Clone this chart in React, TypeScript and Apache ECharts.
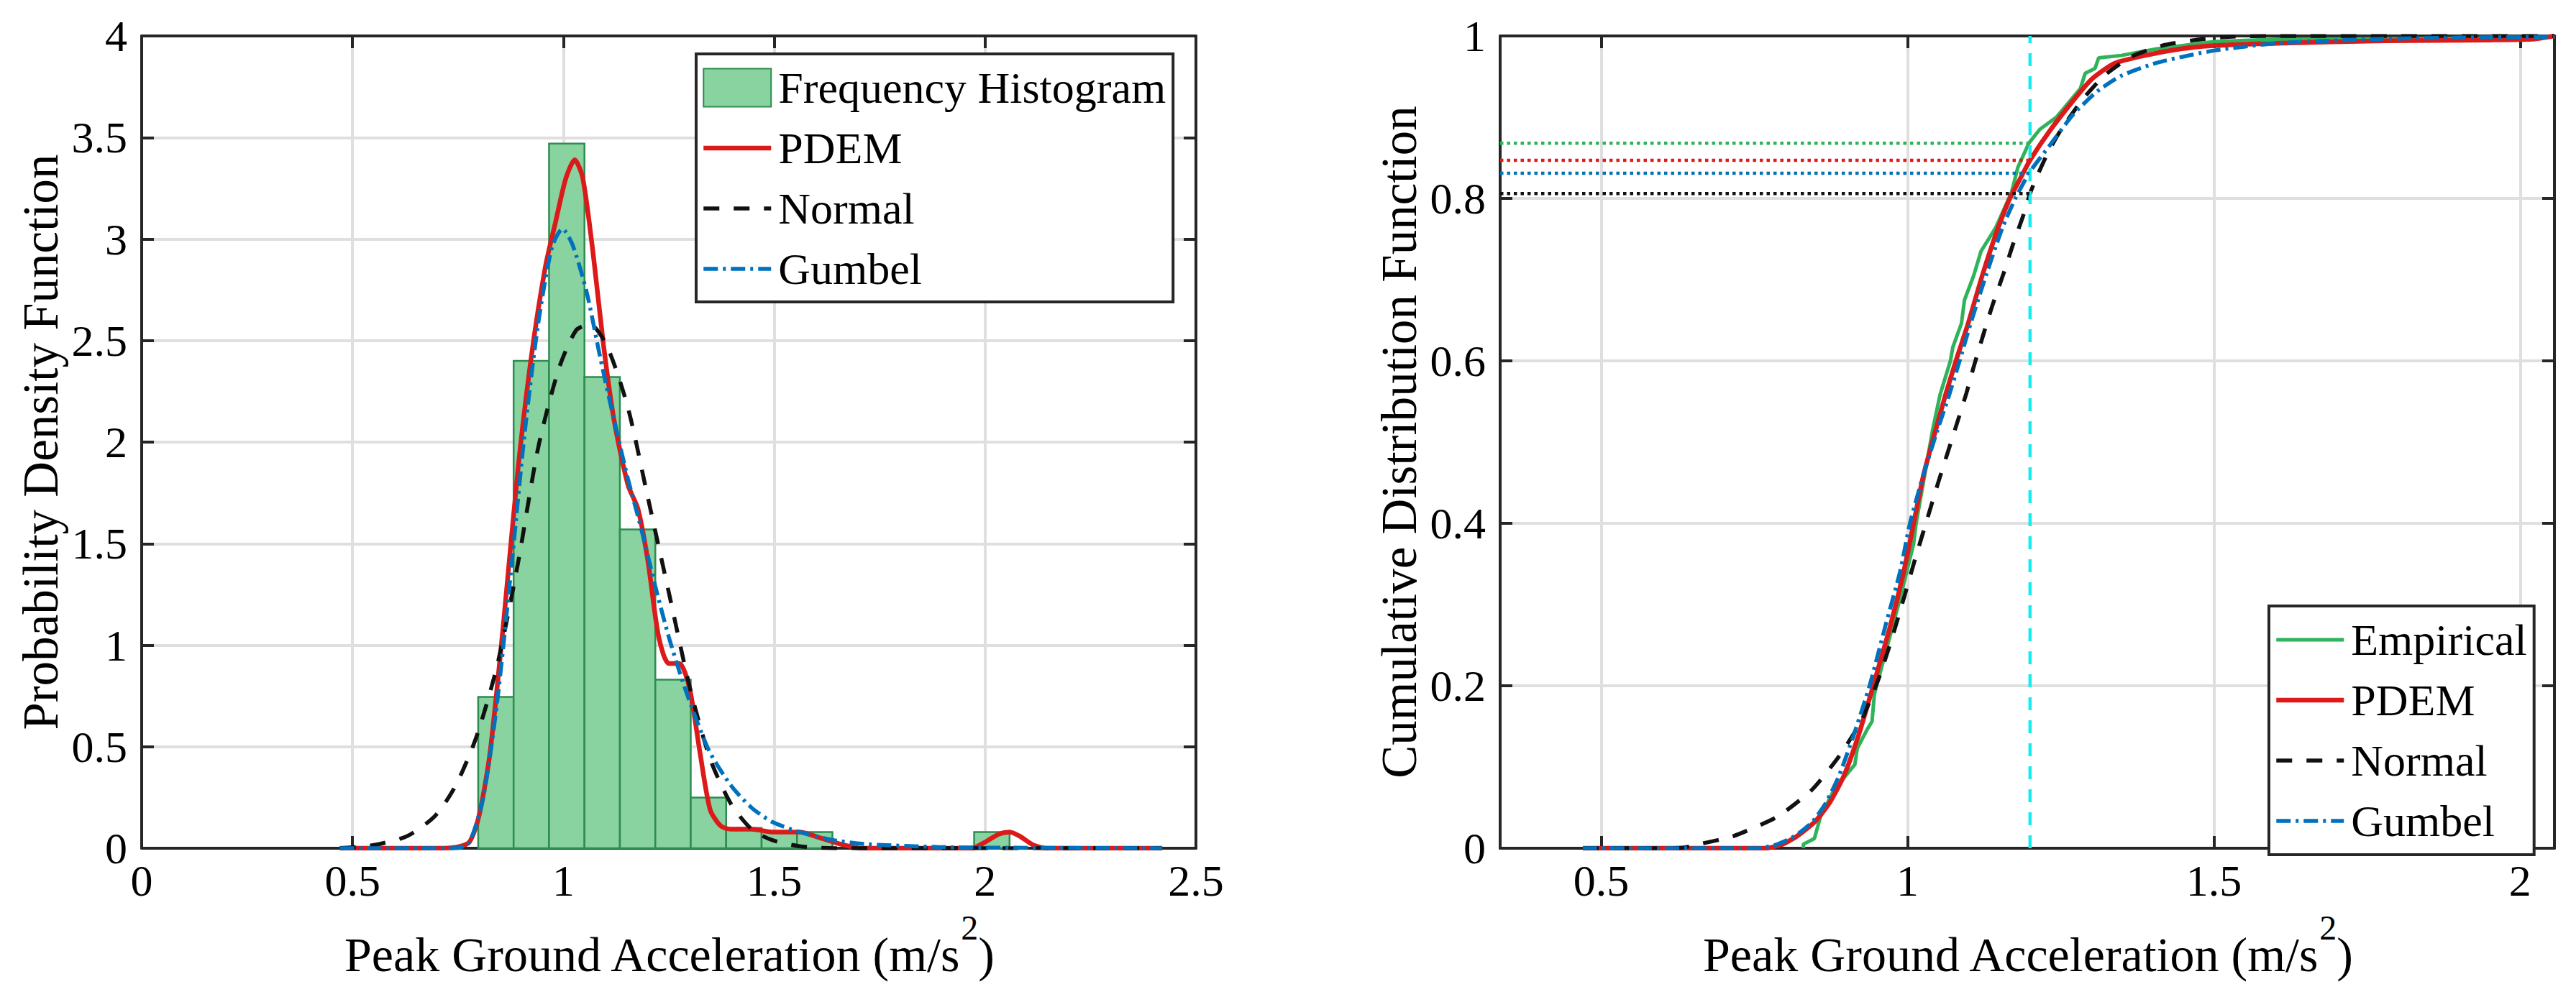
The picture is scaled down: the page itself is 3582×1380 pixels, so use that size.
import React, { useEffect, useRef } from 'react';
import * as echarts from 'echarts';

const FONT = "'Liberation Serif', 'Times New Roman', serif";

// histogram bins (left plot), pdf normalised
const histLeft = [0.798, 0.882, 0.966, 1.050, 1.134, 1.218, 1.302, 1.386, 1.470, 1.554, 1.974];
const histRight = [0.882, 0.966, 1.050, 1.134, 1.218, 1.302, 1.386, 1.470, 1.554, 1.638, 2.058];
const histDensity = [0.745, 2.40, 3.47, 2.32, 1.57, 0.83, 0.25, 0.10, 0.08, 0.08, 0.08];

// pdf curves [x, f(x)]
const pdemPdf = [
  [0.47, 0], [0.6, 0], [0.7, 0], [0.745, 0.005], [0.777, 0.03], [0.8, 0.16], [0.826, 0.47],
  [0.859, 1.13], [0.892, 1.86], [0.924, 2.42], [0.957, 2.86], [0.981, 3.08], [1.006, 3.3],
  [1.027, 3.39], [1.046, 3.3], [1.071, 2.92], [1.095, 2.48], [1.12, 2.11], [1.153, 1.79],
  [1.177, 1.67], [1.2, 1.42], [1.226, 1.04], [1.25, 0.91], [1.275, 0.91], [1.299, 0.79],
  [1.324, 0.47], [1.348, 0.19], [1.373, 0.11], [1.397, 0.094], [1.446, 0.094], [1.495, 0.08],
  [1.56, 0.08], [1.61, 0.05], [1.658, 0.02], [1.707, 0], [1.968, 0], [2.0, 0.03], [2.033, 0.07],
  [2.058, 0.08], [2.082, 0.06], [2.115, 0.015], [2.147, 0], [2.42, 0],
];
const normalPdf = [
  [0.47, 0], [0.549, 0.015], [0.63, 0.06], [0.696, 0.16], [0.745, 0.31], [0.794, 0.55],
  [0.843, 0.9], [0.892, 1.4], [0.94, 1.97], [0.989, 2.36], [1.03, 2.55], [1.063, 2.58],
  [1.104, 2.47], [1.153, 2.17], [1.2, 1.73], [1.25, 1.26], [1.3, 0.79], [1.348, 0.44],
  [1.397, 0.22], [1.446, 0.094], [1.495, 0.04], [1.56, 0.01], [1.64, 0], [2.42, 0],
];
const gumbelPdf = [
  [0.47, 0], [0.745, 0], [0.777, 0.03], [0.81, 0.25], [0.843, 0.72], [0.875, 1.35], [0.908, 2.04],
  [0.94, 2.58], [0.973, 2.96], [0.998, 3.05], [1.022, 2.97], [1.055, 2.74], [1.087, 2.42],
  [1.12, 2.11], [1.153, 1.82], [1.185, 1.57], [1.218, 1.29], [1.25, 1.04], [1.283, 0.82],
  [1.316, 0.63], [1.348, 0.47], [1.397, 0.31], [1.446, 0.2], [1.495, 0.13], [1.56, 0.08],
  [1.64, 0.04], [1.72, 0.02], [1.887, 0.006], [2.0, 0.003], [2.42, 0],
];

// cdf curves [x, F(x)]
const empiricalCdf = [
  [0.83, 0], [0.83, 0.005], [0.848, 0.012], [0.858, 0.039], [0.88, 0.072], [0.914, 0.103],
  [0.918, 0.123], [0.934, 0.146], [0.942, 0.156], [0.946, 0.19], [0.976, 0.274], [0.988, 0.308],
  [1.01, 0.375], [1.014, 0.4], [1.041, 0.515], [1.053, 0.558], [1.07, 0.6], [1.074, 0.617],
  [1.088, 0.646], [1.093, 0.675], [1.108, 0.705], [1.12, 0.735], [1.144, 0.764], [1.17, 0.808],
  [1.18, 0.838], [1.198, 0.868], [1.216, 0.885], [1.243, 0.9], [1.282, 0.935], [1.29, 0.954],
  [1.306, 0.96], [1.312, 0.973], [1.349, 0.976], [1.407, 0.984], [1.5, 0.993], [1.603, 0.996],
  [1.9, 0.997], [2.03, 0.997], [2.056, 1],
];
const pdemCdf = [
  [0.47, 0], [0.768, 0], [0.796, 0.005], [0.82, 0.015], [0.848, 0.032], [0.872, 0.055],
  [0.896, 0.089], [0.92, 0.139], [0.944, 0.2], [0.972, 0.274], [0.994, 0.341], [1.01, 0.4],
  [1.026, 0.459], [1.046, 0.515], [1.062, 0.558], [1.079, 0.6], [1.099, 0.646], [1.122, 0.705],
  [1.148, 0.764], [1.167, 0.8], [1.183, 0.823], [1.2, 0.847], [1.231, 0.882], [1.27, 0.92],
  [1.301, 0.947], [1.337, 0.966], [1.388, 0.976], [1.446, 0.984], [1.499, 0.988], [1.603, 0.991],
  [1.78, 0.994], [1.95, 0.995], [2.02, 0.996], [2.056, 1],
];
const normalCdf = [
  [0.47, 0], [0.6, 0], [0.636, 0.001], [0.66, 0.005], [0.716, 0.015], [0.788, 0.039],
  [0.844, 0.072], [0.888, 0.113], [0.924, 0.156], [0.952, 0.207], [0.974, 0.257], [0.994, 0.308],
  [1.012, 0.355], [1.03, 0.4], [1.05, 0.45], [1.079, 0.519], [1.096, 0.56], [1.107, 0.59],
  [1.122, 0.628], [1.138, 0.667], [1.157, 0.708], [1.172, 0.743], [1.189, 0.779], [1.2, 0.806],
  [1.209, 0.823], [1.229, 0.856], [1.251, 0.885], [1.286, 0.922], [1.321, 0.951], [1.364, 0.974],
  [1.415, 0.988], [1.47, 0.995], [1.525, 0.999], [1.6, 1], [2.056, 1],
];
const gumbelCdf = [
  [0.47, 0], [0.756, 0], [0.788, 0.005], [0.816, 0.015], [0.844, 0.032], [0.866, 0.055],
  [0.888, 0.089], [0.912, 0.139], [0.938, 0.2], [0.964, 0.274], [0.988, 0.341], [1.004, 0.4],
  [1.026, 0.46], [1.049, 0.515], [1.068, 0.558], [1.085, 0.6], [1.103, 0.646], [1.128, 0.705],
  [1.155, 0.764], [1.176, 0.8], [1.2, 0.833], [1.231, 0.864], [1.27, 0.903], [1.31, 0.932],
  [1.349, 0.951], [1.407, 0.967], [1.5, 0.982], [1.603, 0.991], [1.759, 0.996], [1.9, 0.998],
  [2.056, 0.999],
];

// threshold marker on the cdf plot
const thresholdX = 1.2;
const cdfXMin = 0.335;
const cdfXMax = 2.056;
const thresholdLevels = [0.868, 0.847, 0.831, 0.806]; // empirical, pdem, gumbel, normal

const GREEN = '#2fb35a';
const RED = '#dd1a1a';
const BLUE = '#0072bd';
const BLACK = '#111111';
const CYAN = '#12eef0';
const HIST_FILL = '#88d3a0';
const HIST_EDGE = '#2d8c50';
const AXIS = '#262626';

const NORMAL_DASH = [22, 20];
const GUMBEL_DASH = [20, 7, 4, 7];

const labelStyle = { fontSize: 62, fontFamily: FONT, color: '#000' };

function mainX(gridIndex: number, min: number, max: number, extra: any) {
  return {
    type: 'value', gridIndex, min, max, position: 'bottom',
    name: '{t|Peak Ground Acceleration (m/s}{s|2}{t|)}',
    nameLocation: 'middle', nameGap: 86,
    nameTextStyle: {
      fontSize: 68, fontFamily: FONT, color: '#000',
      rich: {
        t: { fontSize: 68, fontFamily: FONT, color: '#000', padding: [28, 0, 0, 0], verticalAlign: 'bottom' },
        s: { fontSize: 48, fontFamily: FONT, color: '#000', verticalAlign: 'top' },
      },
    },
    axisLine: { onZero: false, lineStyle: { color: AXIS, width: 4 } },
    axisTick: { inside: true, length: 17, lineStyle: { color: AXIS, width: 4 } },
    axisLabel: { ...labelStyle, margin: 14 },
    splitLine: { show: true, lineStyle: { color: '#dfdfdf', width: 4 } },
    ...extra,
  };
}
function mainY(gridIndex: number, max: number, interval: number, name: string) {
  return {
    type: 'value', gridIndex, min: 0, max, interval, position: 'left',
    name, nameLocation: 'middle', nameGap: 106,
    nameTextStyle: { fontSize: 69, fontFamily: FONT, color: '#000' },
    axisLine: { onZero: false, lineStyle: { color: AXIS, width: 4 } },
    axisTick: { inside: true, length: 17, lineStyle: { color: AXIS, width: 4 } },
    axisLabel: { ...labelStyle, margin: 20 },
    splitLine: { show: true, lineStyle: { color: '#dfdfdf', width: 4 } },
  };
}
function mirror(gridIndex: number, position: string, base: any) {
  return {
    type: 'value', gridIndex, position, ...base,
    axisLine: { show: true, onZero: false, lineStyle: { color: AXIS, width: 4 } },
    axisTick: { show: true, inside: true, length: 17, lineStyle: { color: AXIS, width: 4 } },
    axisLabel: { show: false },
    splitLine: { show: false },
  };
}

function curve(name: string, data: number[][], axis: number, color: string, width: number, type: any, smooth: number) {
  return {
    name, type: 'line', xAxisIndex: axis, yAxisIndex: axis, data,
    symbol: 'none', showSymbol: false, smooth, silent: true,
    lineStyle: { color, width, type }, itemStyle: { color },
  };
}
function refLine(data: number[][], color: string, width: number, type: any) {
  return {
    type: 'line', xAxisIndex: 2, yAxisIndex: 2, data, symbol: 'none', silent: true,
    lineStyle: { color, width, type }, z: 3,
  };
}

const histData = histLeft.map((l, i) => [l, histRight[i], histDensity[i]]);
const levelColors = [GREEN, RED, BLUE, BLACK];

const cdfTickFormatter = (v: number) =>
  Math.abs(v * 2 - Math.round(v * 2)) < 1e-6 ? String(v) : '';

const legendBase = {
  orient: 'vertical', selectedMode: false,
  itemWidth: 94, itemHeight: 53, itemGap: 22,
  backgroundColor: '#fff', borderColor: AXIS, borderWidth: 4, borderRadius: 0,
  itemStyle: { opacity: 0 },
  lineStyle: { width: 'inherit' },
  textStyle: { fontSize: 62, fontFamily: FONT, color: '#000', lineHeight: 53, padding: [0, 0, 0, 5] },
};

const option: any = {
  animation: false,
  backgroundColor: '#fff',
  grid: [
    { left: 197, top: 50, width: 1466, height: 1130 },
    { left: 2086, top: 50, width: 1466, height: 1130 },
  ],
  xAxis: [
    mainX(0, 0, 2.5, { interval: 0.5 }),
    mirror(0, 'top', { min: 0, max: 2.5, interval: 0.5 }),
    mainX(1, cdfXMin, cdfXMax, {
      splitNumber: 4, minInterval: 0.5, maxInterval: 0.5,
      axisLabel: { ...labelStyle, margin: 14, formatter: cdfTickFormatter },
    }),
    mirror(1, 'top', { min: cdfXMin, max: cdfXMax, splitNumber: 4, minInterval: 0.5, maxInterval: 0.5 }),
  ],
  yAxis: [
    mainY(0, 4, 0.5, 'Probability Density Function'),
    mirror(0, 'right', { min: 0, max: 4, interval: 0.5 }),
    mainY(1, 1, 0.2, 'Cumulative Distribution Function'),
    mirror(1, 'right', { min: 0, max: 1, interval: 0.2 }),
  ],
  legend: [
    {
      ...legendBase,
      left: 968, top: 75,
      padding: [16, 10, 15, 7],
      data: [
        {
          name: 'Frequency Histogram', icon: 'rect',
          itemStyle: { opacity: 1, color: HIST_FILL, borderColor: HIST_EDGE, borderWidth: 2 },
        },
        'PDEM', 'Normal', 'Gumbel',
      ],
    },
    {
      ...legendBase,
      left: 3155, top: 843,
      padding: [16, 10, 16, 7],
      data: ['Empirical', 'PDEM', 'Normal', 'Gumbel'],
    },
  ],
  series: [
    {
      name: 'Frequency Histogram', type: 'custom', xAxisIndex: 0, yAxisIndex: 0,
      data: histData, encode: { x: [0, 1], y: 2 }, silent: true,
      itemStyle: { color: HIST_FILL, borderColor: HIST_EDGE },
      renderItem: (_p: any, api: any) => {
        const a = api.coord([api.value(0), api.value(2)]);
        const b = api.coord([api.value(1), 0]);
        return {
          type: 'rect',
          shape: { x: a[0], y: a[1], width: b[0] - a[0], height: b[1] - a[1] },
          style: { fill: HIST_FILL, stroke: HIST_EDGE, lineWidth: 2.5 },
        };
      },
    },
    curve('PDEM', pdemPdf, 0, RED, 6.5, 'solid', 0.25),
    curve('Normal', normalPdf, 0, BLACK, 5.5, NORMAL_DASH, 0.25),
    curve('Gumbel', gumbelPdf, 0, BLUE, 5.5, GUMBEL_DASH, 0.25),

    curve('Empirical', empiricalCdf, 2, GREEN, 5, 'solid', 0),
    curve('PDEM', pdemCdf, 2, RED, 6.5, 'solid', 0.2),
    curve('Normal', normalCdf, 2, BLACK, 5.5, NORMAL_DASH, 0.2),
    curve('Gumbel', gumbelCdf, 2, BLUE, 5.5, GUMBEL_DASH, 0.2),

    refLine([[thresholdX, 0], [thresholdX, 1]], CYAN, 4.5, [18, 14]),
    ...thresholdLevels.map((lv, i) =>
      refLine([[cdfXMin, lv], [thresholdX, lv]], levelColors[i], 4.5, [4.5, 5])
    ),
  ],
};

export default function App() {
  const ref = useRef<HTMLDivElement>(null);
  useEffect(() => {
    if (!ref.current) return;
    const chart = echarts.init(ref.current, null, { renderer: 'svg' });
    chart.setOption(option);
    return () => chart.dispose();
  }, []);
  return (
    <div
      ref={ref}
      style={{ position: 'absolute', left: 0, top: 0, width: 3582, height: 1380, background: '#fff' }}
    />
  );
}
